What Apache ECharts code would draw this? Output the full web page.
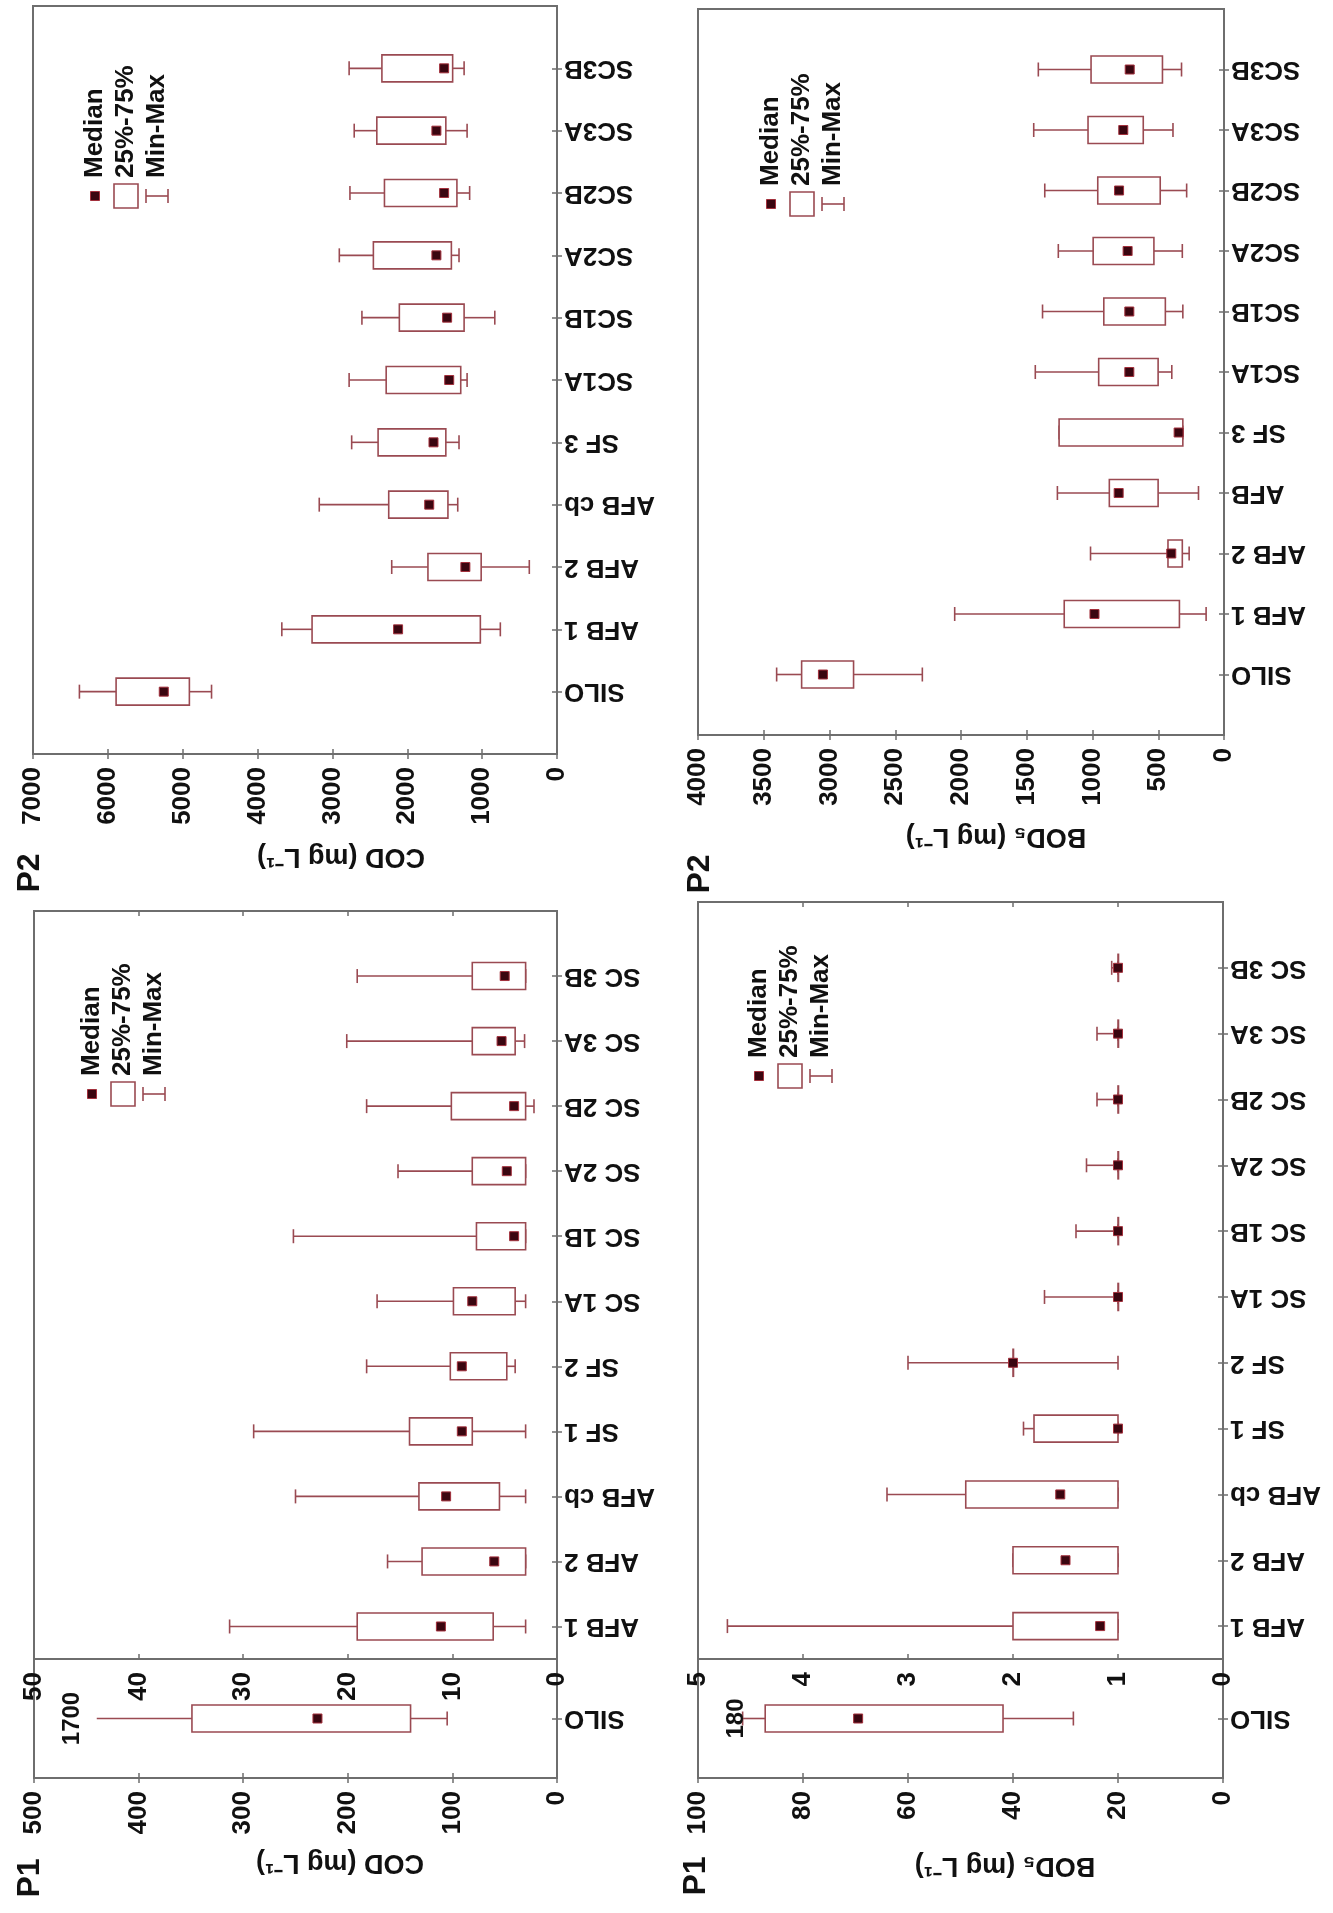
<!DOCTYPE html>
<html>
<head>
<meta charset="utf-8">
<script src="https://cdn.jsdelivr.net/npm/echarts@6/dist/echarts.min.js"></script>
<style>
html,body{margin:0;padding:0;background:#fff;}
#chart{width:1333px;height:1913px;}
</style>
</head>
<body>
<div id="chart"></div>
<script>
// ================= DATA =================
// Each row: [min, 25%, median, 75%, max]
const catsP2COD = ['SILO','AFB 1','AFB 2','AFB cb','SF 3','SC1A','SC1B','SC2A','SC2B','SC3A','SC3B'];
const statsP2COD = [
  [4615, 4911, 5253, 5890, 6380],
  [757, 1024, 2123, 3272, 3676],
  [370, 1013, 1224, 1724, 2208],
  [1326, 1457, 1707, 2248, 3176],
  [1309, 1485, 1650, 2390, 2743],
  [1201, 1286, 1440, 2282, 2777],
  [831, 1241, 1468, 2106, 2606],
  [1309, 1411, 1611, 2453, 2908],
  [1167, 1337, 1508, 2305, 2766],
  [1201, 1485, 1611, 2407, 2709],
  [1241, 1394, 1508, 2339, 2777]
];

const catsP2BOD = ['SILO','AFB 1','AFB 2','AFB','SF 3','SC1A','SC1B','SC2A','SC2B','SC3A','SC3B'];
const statsP2BOD = [
  [2294, 2817, 3050, 3212, 3402],
  [136, 339, 985, 1215, 2048],
  [265, 317, 401, 426, 1015],
  [194, 501, 801, 872, 1267],
  [313, 313, 345, 1254, 1254],
  [397, 501, 720, 953, 1435],
  [313, 446, 720, 914, 1380],
  [317, 533, 733, 995, 1260],
  [284, 485, 798, 960, 1363],
  [388, 614, 766, 1034, 1447],
  [323, 468, 717, 1011, 1412]
];

const catsP1 = ['AFB 1','AFB 2','AFB cb','SF 1','SF 2','SC 1A','SC 1B','SC 2A','SC 2B','SC 3A','SC 3B'];
const statsP1COD = [
  [3.0, 6.1, 11.1, 19.1, 31.3],
  [3.0, 3.0, 6.0, 12.9, 16.2],
  [3.0, 5.5, 10.6, 13.2, 25.0],
  [3.0, 8.1, 9.1, 14.1, 29.0],
  [4.0, 4.8, 9.1, 10.2, 18.2],
  [3.0, 4.0, 8.1, 9.9, 17.2],
  [3.0, 3.0, 4.1, 7.7, 25.2],
  [3.0, 3.0, 4.8, 8.1, 15.2],
  [2.2, 3.0, 4.1, 10.1, 18.2],
  [3.1, 4.0, 5.3, 8.1, 20.1],
  [3.0, 3.0, 5.0, 8.1, 19.1]
];
const statsP1BOD = [
  [1.0, 1.0, 1.17, 2.0, 4.72],
  [1.0, 1.0, 1.5, 2.0, 2.0],
  [1.0, 1.0, 1.55, 2.45, 3.2],
  [1.0, 1.0, 1.0, 1.8, 1.9],
  [1.0, 2.0, 2.0, 2.0, 3.0],
  [1.0, 1.0, 1.0, 1.0, 1.7],
  [1.0, 1.0, 1.0, 1.0, 1.4],
  [1.0, 1.0, 1.0, 1.0, 1.3],
  [1.0, 1.0, 1.0, 1.0, 1.2],
  [1.0, 1.0, 1.0, 1.0, 1.2],
  [1.0, 1.0, 1.0, 1.0, 1.06]
];

const catsSilo = ['SILO'];
const siloP1COD = [105, 140, 229, 349, 440];   // whisker drawn to 440, true max annotated
const siloP1CODMaxNote = '1700';
const siloP1BOD = [28.5, 41.9, 69.5, 87.2, 91.5];
const siloP1BODMaxNote = '180';

// value-axis ranges [min, max, step]
const axisP2COD = [0, 7000, 1000];
const axisP2BOD = [0, 4000, 500];
const axisP1COD = [0, 50, 10];
const axisP1CODSilo = [0, 500, 100];
const axisP1BOD = [0, 5, 1];
const axisP1BODSilo = [0, 100, 20];

const legendLabels = ['Median', '25%-75%', 'Min-Max'];
const titleCOD = 'COD (mg L\u207B\u00B9)';
const titleBOD = 'BOD\u2085 (mg L\u207B\u00B9)';

// ================= STYLE / LAYOUT =================
const FONT = '"Liberation Sans", Arial, sans-serif';
const BOX_COLOR = '#9a4a52';
const MED_COLOR = '#3a0610';
const FRAME = '#6e6e6e';
const TXT = '#111';

const panels = [
  { grid: {left: 33, top: 6, width: 524, height: 748}, ax: axisP2COD, cmin: 0, cmax: 12, cats: catsP2COD, stats: statsP2COD },
  { grid: {left: 698, top: 9, width: 526, height: 726}, ax: axisP2BOD, cmin: 0, cmax: 12, cats: catsP2BOD, stats: statsP2BOD },
  { grid: {left: 34, top: 911, width: 523, height: 748}, ax: axisP1COD, cmin: 0.5, cmax: 12, cats: catsP1, stats: statsP1COD },
  { grid: {left: 34, top: 1659, width: 523, height: 119}, ax: axisP1CODSilo, cmin: 0, cmax: 2, cats: catsSilo, stats: [siloP1COD], note: siloP1CODMaxNote, noMaxCap: true },
  { grid: {left: 698, top: 902, width: 525, height: 757}, ax: axisP1BOD, cmin: 0.5, cmax: 12, cats: catsP1, stats: statsP1BOD },
  { grid: {left: 698, top: 1659, width: 525, height: 119}, ax: axisP1BODSilo, cmin: 0, cmax: 2, cats: catsSilo, stats: [siloP1BOD], note: siloP1BODMaxNote }
];

function makeRender(p) {
  return function (params, api) {
    const pos = api.value(0);
    const vals = [api.value(1), api.value(2), api.value(3), api.value(4), api.value(5)];
    const pts = vals.map(v => api.coord([v, pos]));
    const y = pts[0][1];
    const X = pts.map(q => q[0]);
    const ls = {stroke: BOX_COLOR, lineWidth: 1.6};
    const H = 27, CAP = 14, MS = 9;
    const kids = [];
    kids.push({type: 'line', shape: {x1: X[4], y1: y, x2: X[3], y2: y}, style: ls});
    kids.push({type: 'line', shape: {x1: X[1], y1: y, x2: X[0], y2: y}, style: ls});
    if (!p.noMaxCap) kids.push({type: 'line', shape: {x1: X[4], y1: y - CAP / 2, x2: X[4], y2: y + CAP / 2}, style: ls});
    kids.push({type: 'line', shape: {x1: X[0], y1: y - CAP / 2, x2: X[0], y2: y + CAP / 2}, style: ls});
    const bx = Math.min(X[1], X[3]);
    const bw = Math.max(Math.abs(X[3] - X[1]), 0.5);
    kids.push({type: 'rect', shape: {x: bx, y: y - H / 2, width: bw, height: H}, style: {fill: '#fff', stroke: BOX_COLOR, lineWidth: 1.6}});
    kids.push({type: 'rect', shape: {x: X[2] - MS / 2, y: y - MS / 2, width: MS, height: MS}, style: {fill: MED_COLOR, stroke: '#a3303c', lineWidth: 1}});
    if (p.note) {
      const nx = api.coord([p.ax[1], pos])[0] + 38;
      kids.push({type: 'text', x: nx, y: y, rotation: Math.PI / 2,
        style: {text: p.note, font: 'bold 24px ' + FONT, fill: TXT, textAlign: 'center', textVerticalAlign: 'middle', align: 'center', verticalAlign: 'middle'}});
    }
    return {type: 'group', children: kids};
  };
}

const grids = [], xAxes = [], yAxes = [], series = [];
panels.forEach((p, g) => {
  grids.push(Object.assign({show: true, borderColor: FRAME, borderWidth: 2, backgroundColor: 'transparent', containLabel: false, outerBoundsMode: 'none'}, p.grid));
  const positions = p.cats.map((c, i) => i + 1);
  const tick = {show: true, inside: true, length: 5, lineStyle: {color: FRAME, width: 1.5}};
  const xBase = {gridIndex: g, type: 'value', inverse: true, min: p.ax[0], max: p.ax[1], interval: p.ax[2],
    axisLine: {show: false}, splitLine: {show: false}, axisTick: tick};
  xAxes.push(Object.assign({}, xBase, {position: 'bottom',
    axisLabel: {show: true, rotate: 90, margin: 13, color: TXT, fontSize: 26, fontWeight: 'bold', fontFamily: FONT, formatter: v => String(v)}}));
  xAxes.push(Object.assign({}, xBase, {position: 'top', axisLabel: {show: false}}));
  const yBase = {gridIndex: g, type: 'value', min: p.cmin, max: p.cmax, axisLine: {show: false}, splitLine: {show: false},
    axisTick: Object.assign({}, tick, {customValues: positions})};
  yAxes.push(Object.assign({}, yBase, {position: 'right',
    axisLabel: {show: true, customValues: positions, rotate: 180, margin: 7, color: TXT, fontSize: 26, fontWeight: 'bold', fontFamily: FONT,
      formatter: v => p.cats[Math.round(v) - 1] || ''}}));
  yAxes.push(Object.assign({}, yBase, {position: 'left', axisLabel: {show: false}}));
  series.push({
    type: 'custom', xAxisIndex: 2 * g, yAxisIndex: 2 * g, renderItem: makeRender(p),
    encode: {x: [1, 2, 3, 4, 5], y: 0},
    data: p.stats.map((s, i) => [i + 1].concat(s)),
    silent: true, animation: false, clip: false
  });
});

function legend(x0, y0) {
  const S = 31;
  const ls = {stroke: BOX_COLOR, lineWidth: 1.6};
  const ts = (t, yy) => ({type: 'text', x: 32, y: yy,
    style: {text: t, font: 'bold 26px ' + FONT, fill: TXT, textAlign: 'left', textVerticalAlign: 'middle', align: 'left', verticalAlign: 'middle'}});
  return {type: 'group', x: x0, y: y0, rotation: Math.PI / 2, children: [
    {type: 'rect', shape: {x: 14 - 4.5, y: -4.5, width: 9, height: 9}, style: {fill: MED_COLOR, stroke: '#a3303c', lineWidth: 1}},
    ts(legendLabels[0], 0),
    {type: 'rect', shape: {x: 2, y: S - 12, width: 24, height: 24}, style: {fill: '#fff', stroke: BOX_COLOR, lineWidth: 1.6}},
    ts(legendLabels[1], S),
    {type: 'line', shape: {x1: 14, y1: 2 * S - 11, x2: 14, y2: 2 * S + 11}, style: ls},
    {type: 'line', shape: {x1: 7, y1: 2 * S - 11, x2: 21, y2: 2 * S - 11}, style: ls},
    {type: 'line', shape: {x1: 7, y1: 2 * S + 11, x2: 21, y2: 2 * S + 11}, style: ls},
    ts(legendLabels[2], 2 * S)
  ]};
}
function rotText(t, x, y, rot, size) {
  return {type: 'text', x: x, y: y, rotation: rot,
    style: {text: t, font: 'bold ' + size + 'px ' + FONT, fill: TXT, textAlign: 'center', textVerticalAlign: 'middle', align: 'center', verticalAlign: 'middle'}};
}

const graphics = [
  legend(95, 210), legend(771, 218), legend(92, 1108), legend(759, 1090),
  rotText(titleCOD, 341, 856, Math.PI, 27),
  rotText(titleBOD, 996, 836, Math.PI, 27),
  rotText(titleCOD, 340, 1862, Math.PI, 27),
  rotText(titleBOD, 1005, 1865, Math.PI, 27),
  rotText('P2', 30, 873, Math.PI / 2, 32),
  rotText('P2', 700, 874, Math.PI / 2, 32),
  rotText('P1', 30, 1878, Math.PI / 2, 32),
  rotText('P1', 696, 1876, Math.PI / 2, 32)
];

const chart = echarts.init(document.getElementById('chart'), null, {renderer: 'canvas'});
chart.setOption({
  backgroundColor: '#fff',
  animation: false,
  grid: grids,
  xAxis: xAxes,
  yAxis: yAxes,
  series: series,
  graphic: {elements: graphics}
});
</script>
</body>
</html>
